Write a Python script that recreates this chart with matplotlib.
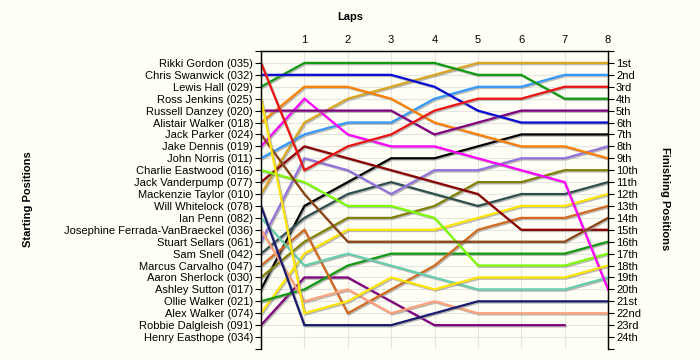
import matplotlib
matplotlib.use("Agg")
import matplotlib.pyplot as plt
import matplotlib.patheffects as pe

plt.rcParams['font.family'] = ['Liberation Sans', 'DejaVu Sans']

drivers = ["Rikki Gordon (035)", "Chris Swanwick (032)", "Lewis Hall (029)",
           "Ross Jenkins (025)", "Russell Danzey (020)", "Alistair Walker (018)",
           "Jack Parker (024)", "Jake Dennis (019)", "John Norris (011)",
           "Charlie Eastwood (016)", "Jack Vanderpump (077)", "Mackenzie Taylor (010)",
           "Will Whitelock (078)", "Ian Penn (082)", "Josephine Ferrada-VanBraeckel (036)",
           "Stuart Sellars (061)", "Sam Snell (042)", "Marcus Carvalho (047)",
           "Aaron Sherlock (030)", "Ashley Sutton (017)", "Ollie Walker (021)",
           "Alex Walker (074)", "Robbie Dalgleish (091)", "Henry Easthope (034)"]

finish_labels = ["1st", "2nd", "3rd", "4th", "5th", "6th", "7th", "8th", "9th", "10th",
                 "11th", "12th", "13th", "14th", "15th", "16th", "17th", "18th", "19th",
                 "20th", "21st", "22nd", "23rd", "24th"]

laps = [0, 1, 2, 3, 4, 5, 6, 7, 8]

# position of each driver (same order as drivers) after each lap; None = not running
lap0 = [1, 2, 3, 4, 5, 6, 7, 8, 9, 10, 11, 12, 13, 14, 15, 16, 17, 18, 19, 20, 21, 22, 23, None]
lap1 = [10, 2, 1, 22, 5, 3, 12, 4, 7, 11, 8, 6, 23, 18, 21, 9, 14, 15, 16, 13, 20, 17, 19, None]
lap2 = [8, 2, 1, 21, 5, 3, 16, 7, 6, 13, 9, 4, 23, 17, 20, 10, 12, 22, 14, 11, 18, 15, 19, None]
lap3 = [7, 2, 1, 19, 5, 4, 16, 8, 6, 13, 10, 3, 23, 18, 22, 12, 11, 20, 14, 9, 17, 15, 21, None]
lap4 = [5, 3, 1, 20, 7, 6, 16, 8, 4, 14, 11, 2, 22, 19, 21, 10, 12, 18, 13, 9, 17, 15, 23, None]
lap5 = [4, 5, 2, 19, 6, 7, 16, 9, 3, 18, 12, 1, 21, 20, 22, 10, 13, 15, 11, 8, 17, 14, 23, None]
lap6 = [4, 6, 2, 19, 5, 8, 16, 10, 3, 18, 15, 1, 21, 20, 22, 9, 12, 14, 11, 7, 17, 13, 23, None]
lap7 = [3, 6, 4, 19, 5, 8, 16, 11, 2, 18, 15, 1, 21, 20, 22, 9, 12, 14, 10, 7, 17, 13, 23, None]
lap8 = [3, 6, 4, 18, 5, 9, 14, 20, 2, 17, 15, 1, 21, 19, 22, 8, 11, 13, 10, 7, 16, 12, None, None]

line_colors = ["#ee1111", "#0a0ad8", "#119a11", "#ffe400", "#800080", "#ff8000",
               "#8b4513", "#ff00ff", "#3399ff", "#7cfc00", "#8b0000", "#daa520",
               "#1a1a6e", "#66cdaa", "#ffa07a", "#9370db", "#2f4f4f", "#d2691e",
               "#808000", "#000000", "#119a11", "#ffe400", "#800080", "#ff8000"]

bg = "#fffff5"
fig = plt.figure(figsize=(7, 3.6), dpi=100, facecolor=bg)
ax = fig.add_axes([261 / 700, 1 - 349 / 360, (608 - 261) / 700, (349 - 51) / 360])
ax.set_facecolor(bg)

all_laps = [lap0, lap1, lap2, lap3, lap4, lap5, lap6, lap7, lap8]
shadow = [pe.SimpleLineShadow(offset=(0.9, -0.9), shadow_color="#808080", alpha=0.55), pe.Normal()]
for i in range(len(drivers)):
    xs, ys = [], []
    for lp, arr in zip(laps, all_laps):
        if arr[i] is not None:
            xs.append(lp)
            ys.append(arr[i])
    if len(xs) > 1:
        ax.plot(xs, ys, color=line_colors[i], lw=1.6, solid_joinstyle="miter",
                path_effects=shadow, zorder=3 + (len(drivers) - i) * 0.01)

ax.set_xlim(0, 8)
ax.set_ylim(25, 0)

# grid
for r in range(1, 25):
    ax.axhline(r, color="#e4e4e4", lw=0.8, zorder=1)
for lp in range(1, 8):
    ax.axvline(lp, color="#e4e4e4", lw=0.8, zorder=1)

# left axis: starting positions
ax.set_yticks(range(0, 26))
ax.set_yticklabels([""] + drivers + [""], fontsize=8)
ax.tick_params(axis="y", direction="out", length=4.3, width=0.8, pad=1.5)

# top axis: laps
ax.xaxis.tick_top()
ax.set_xticks(laps[1:])
ax.set_xticklabels([str(l) for l in laps[1:]], fontsize=8)
ax.tick_params(axis="x", length=0, pad=4)

# right axis: finishing positions
ax2 = ax.twinx()
ax2.set_ylim(25, 0)
ax2.set_yticks(range(0, 26))
ax2.set_yticklabels([""] + finish_labels + [""], fontsize=8)
ax2.tick_params(axis="y", direction="out", length=4.3, width=0.8, pad=1.5)

for a in (ax, ax2):
    a.spines["bottom"].set_visible(False)
    for s in ("left", "right", "top"):
        a.spines[s].set_linewidth(0.9)

fig.text(350 / 700, 1 - 17 / 360, "Laps", ha="center", va="center", fontsize=8, fontweight="bold")
fig.text(28 / 700, 1 - 199 / 360, "Starting Positions", ha="center", va="center",
         rotation=90, fontsize=8, fontweight="bold")
fig.text(665 / 700, 1 - 199 / 360, "Finishing Positions", ha="center", va="center",
         rotation=-90, fontsize=8, fontweight="bold")

fig.savefig("out.png", dpi=100, facecolor=bg)
